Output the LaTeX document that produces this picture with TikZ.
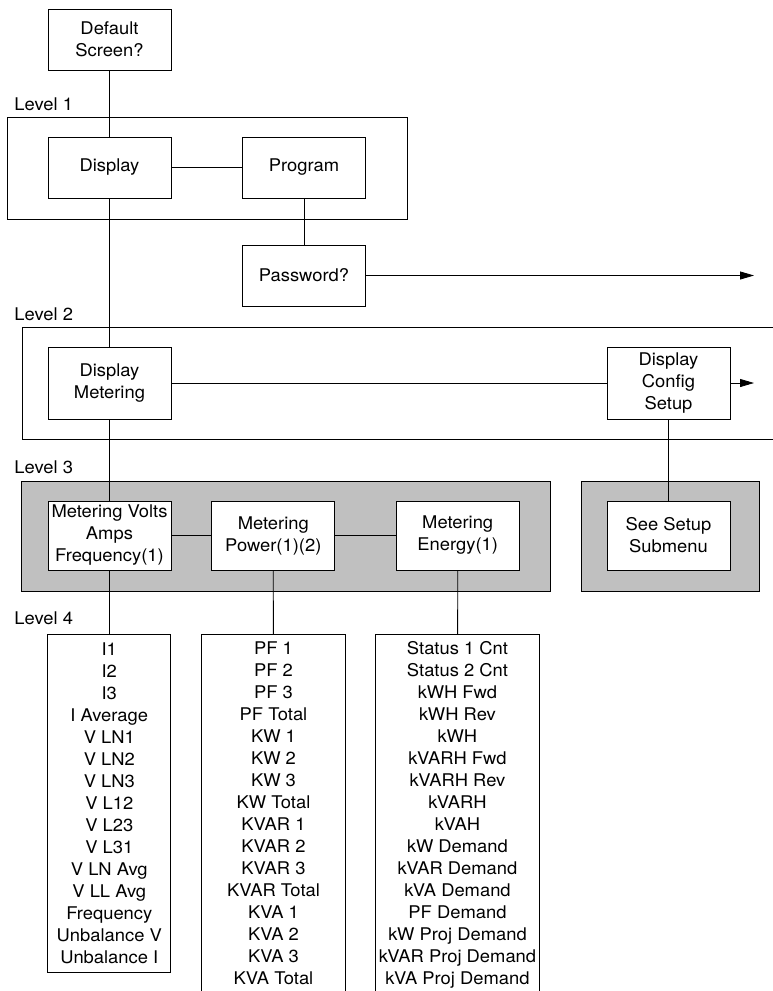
\documentclass[tikz,border=0pt]{standalone}
\usepackage{fontspec}
\setmainfont[FakeStretch = 1.05]{TeX Gyre Heros}
\usetikzlibrary{arrows.meta}
\definecolor{framegray}{RGB}{192,192,192}

\begin{document}
\begin{tikzpicture}[x = 1pt, y = -1pt, line width = 0.8pt,
    boxfont/.style = {font = \fontsize{17.5}{22}\selectfont},
    menubox/.style = {boxfont, draw = black, fill = white, align = center, minimum width = 123pt, minimum height = 61pt, inner sep = 1pt},
    listbox/.style = {boxfont, draw = black, fill = white, align = center, anchor = north, inner xsep = 1pt, inner ysep = 7pt},
    levellabel/.style = {boxfont, anchor = west, inner sep = 0pt},
    grayframe/.style = {draw = black, fill = framegray},
    tip/.style = {-{Triangle[length = 14pt, width = 8pt]}}]
\useasboundingbox (0,0) rectangle (772,991);
\node[levellabel] (lvl1) at (14,104) {Level 1};
\node[levellabel] (lvl2) at (14,314) {Level 2};
\node[levellabel] (lvl3) at (14,467) {Level 3};
\node[levellabel] (lvl4) at (14,618) {Level 4};
\draw (7,117) rectangle (407,219);
\draw (780,327) -- (22.5,327) -- (22.5,439) -- (780,439);
\draw [grayframe] (21,481) rectangle (550,591);
\draw [grayframe] (581,481) rectangle (759,591);
\node[menubox] (default) at (109.5,39.5) {Default\\Screen?};
\node[menubox] (display) at (109.5,167.5) {Display};
\node[menubox] (program) at (304,167.5) {Program};
\node[menubox] (password) at (304,275.5) {Password?};
\node[menubox, minimum height = 72pt] (dmeter) at (109.5,383) {Display\\Metering};
\node[menubox, minimum height = 72pt] (dconfig) at (668.5,383) {Display\\Config\\Setup};
\node[menubox, minimum height = 69pt] (volts) at (109.5,535.5) {Metering Volts\\Amps\\Frequency(1)};
\node[menubox, minimum height = 69pt] (power) at (273.3,535.5) {Metering\\Power(1)(2)};
\node[menubox, minimum height = 69pt] (energy) at (457.7,535.5) {Metering\\Energy(1)};
\node[menubox, minimum height = 69pt] (setup) at (668.5,535.5) {See Setup\\Submenu};
\node[listbox, minimum width = 123pt, minimum height = 338pt] (voltslist) at (109.3,634) {I1\\I2\\I3\\I Average\\V LN1\\V LN2\\V LN3\\V L12\\V L23\\V L31\\V LN Avg\\V LL Avg\\Frequency\\Unbalance V\\Unbalance I};
\node[listbox, minimum width = 144pt] (powerlist) at (273.5,634) {PF 1\\PF 2\\PF 3\\PF Total\\KW 1\\KW 2\\KW 3\\KW Total\\KVAR 1\\KVAR 2\\KVAR 3\\KVAR Total\\KVA 1\\KVA 2\\KVA 3\\KVA Total};
\node[listbox, minimum width = 163pt, draw = none] (energylist) at (457.5,634) {Status 1 Cnt\\Status 2 Cnt\\kWH Fwd\\kWH Rev\\kWH\\kVARH Fwd\\kVARH Rev\\kVARH\\kVAH\\kW Demand\\kVAR Demand\\kVA Demand\\PF Demand\\kW Proj Demand\\kVAR Proj Demand\\kVA Proj Demand};
\draw (energylist.north west) -- (energylist.north east) -- ++(0,380) (energylist.north west) -- ++(0,380);
\coordinate (pwend) at (754,275.5);
\coordinate (cfgend) at (754,383);
\draw (default) -- (display);
\draw (display) -- (program);
\draw (program) -- (password);
\draw [tip] (password) -- (pwend);
\draw (display) -- (dmeter);
\draw (dmeter) -- (dconfig);
\draw [tip] (dconfig) -- (cfgend);
\draw (dconfig) -- (setup);
\draw (dmeter) -- (volts);
\draw (volts) -- (power);
\draw (power) -- (energy);
\draw (volts) -- (voltslist);
\draw (power) -- (powerlist);
\draw (energy) -- (energylist);
\end{tikzpicture}
\end{document}
